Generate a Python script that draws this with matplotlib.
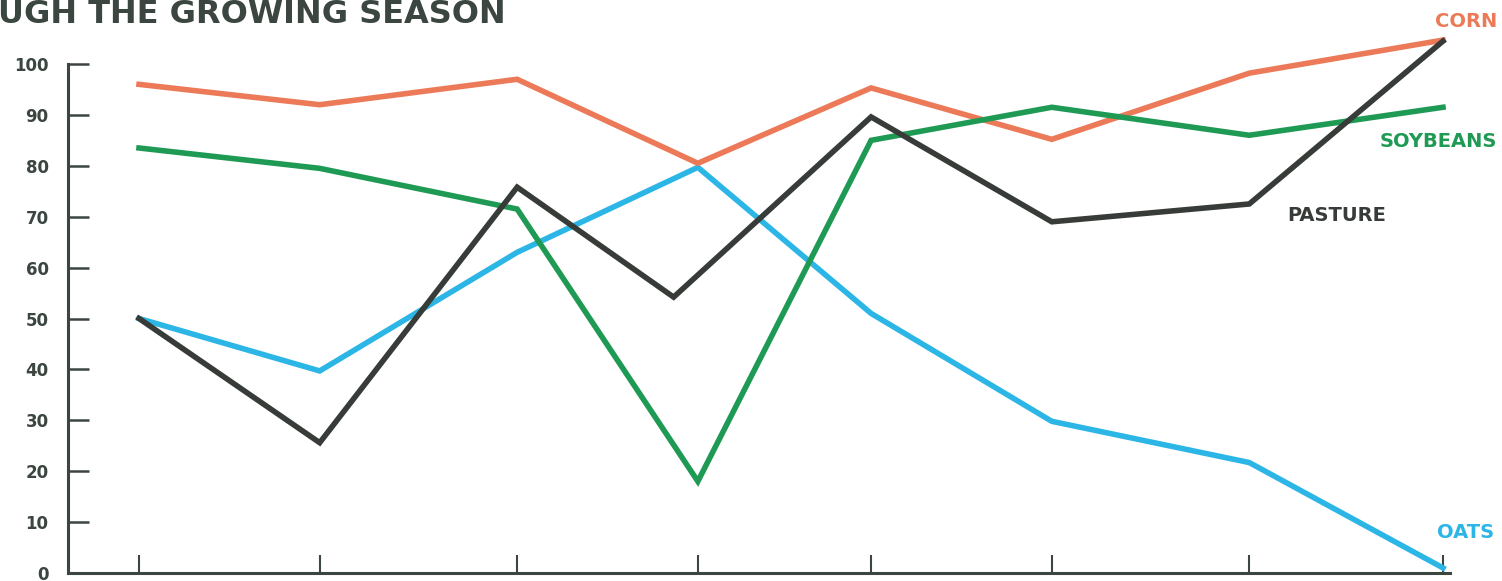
import matplotlib
matplotlib.use("Agg")
import matplotlib.pyplot as plt

# readings through the growing season; the stages are not evenly spaced
stages = [0, 0.97, 2.03, 3.0, 3.93, 4.9, 5.96, 7]
pasture_stages = [0, 0.97, 2.03, 2.87, 3.93, 4.9, 5.96, 7]

corn = [96, 92, 97, 80.5, 95.3, 85.2, 98.2, 104.7]
soybeans = [83.5, 79.5, 71.5, 18, 85, 91.5, 86, 91.5]
pasture = [50, 25.6, 75.8, 54.2, 89.6, 69, 72.5, 104.5]
oats = [50, 39.7, 63, 79.7, 51, 29.8, 21.7, 1]

yticks = [0, 10, 20, 30, 40, 50, 60, 70, 80, 90, 100]

W, H = 1502, 581
ink = "#3b4640"
c_corn = "#ec7a58"
c_soy = "#1f9a55"
c_past = "#383c39"
c_oats = "#2cb6e6"

fig = plt.figure(figsize=(W / 100, H / 100), dpi=100)
# axes box from pixel measurements of the original
ax = fig.add_axes([68 / W, 8 / H, (1450 - 68) / W, (573 - 20) / H])

step = (1443 - 139) / 7
ax.set_xlim(-(139 - 68) / step, 7 + (1450 - 1443) / step)
ax.set_ylim(0, 553 / 5.09)

ax.plot(stages, corn, color=c_corn, lw=4, solid_joinstyle="miter", clip_on=False, zorder=3)
ax.plot(stages, soybeans, color=c_soy, lw=4, solid_joinstyle="miter", clip_on=False, zorder=3)
ax.plot(stages, oats, color=c_oats, lw=4, solid_joinstyle="miter", clip_on=False, zorder=2)
ax.plot(pasture_stages, pasture, color=c_past, lw=4, solid_joinstyle="miter", clip_on=False, zorder=4)

for s in ["top", "right"]:
    ax.spines[s].set_visible(False)
for s in ["left", "bottom"]:
    ax.spines[s].set_color(ink)
    ax.spines[s].set_linewidth(2.2)
ax.spines["left"].set_bounds(0, 100)

ax.set_yticks(yticks)
ax.set_yticklabels([str(v) for v in yticks])
ax.set_xticks(stages)
ax.set_xticklabels([])
ax.tick_params(axis="y", direction="in", length=15, width=1.8, color=ink,
               pad=14, labelsize=12, labelcolor=ink)
ax.tick_params(axis="x", direction="in", length=13, width=1.5, color=ink)
for lab in ax.get_yticklabels():
    lab.set_fontweight("bold")

def px(x, y):
    return x / W, 1 - y / H

fig.text(*px(-2, 23), "UGH THE GROWING SEASON", fontsize=23, fontweight="bold",
         color=ink, ha="left", va="baseline")

fig.text(*px(1497, 27), "CORN", fontsize=14, fontweight="bold", color=c_corn,
         ha="right", va="baseline")
fig.text(*px(1497, 147), "SOYBEANS", fontsize=14, fontweight="bold", color=c_soy,
         ha="right", va="baseline")
fig.text(*px(1287, 221), "PASTURE", fontsize=14, fontweight="bold", color=c_past,
         ha="left", va="baseline")
fig.text(*px(1494, 538), "OATS", fontsize=14, fontweight="bold", color=c_oats,
         ha="right", va="baseline")

fig.savefig("out.png", dpi=100)
